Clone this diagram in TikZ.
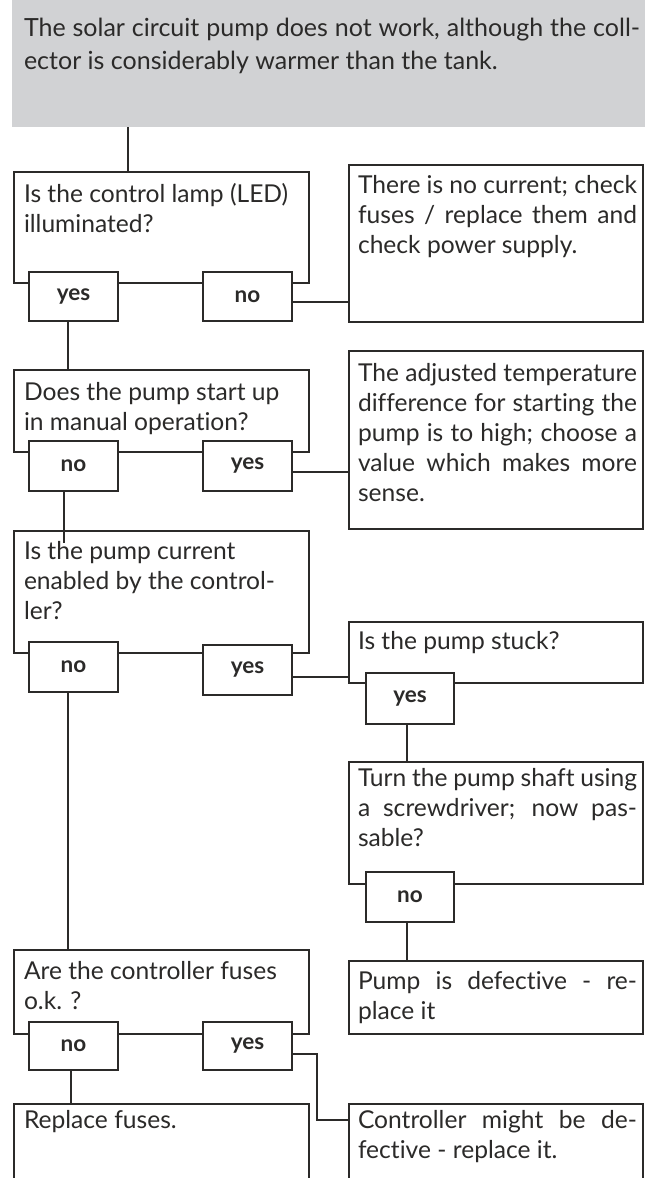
\documentclass[tikz,border=0pt]{standalone}
\usepackage{fontspec}
\setmainfont{Lato}[Ligatures={NoCommon,NoRare}]
\usetikzlibrary{calc}
\definecolor{ink}{HTML}{2B2A29}
\definecolor{panel}{HTML}{D1D2D4}
\newcommand\jline[1]{\makebox[279pt][s]{#1}}
\newcommand\btext[1]{\parbox[t]{290pt}{\fontsize{24.6}{30}\selectfont #1}}
\begin{document}
\begin{tikzpicture}[x=1pt,y=-1pt,
  frame/.style={draw=ink,line width=2pt,fill=white,inner sep=0pt,outer sep=0pt,anchor=north west},
  tag/.style={frame,minimum width=89pt,minimum height=49pt,text=ink,font=\fontsize{22.5}{22.5}\selectfont\bfseries},
  txt/.style={anchor=base west,inner sep=0pt,outer sep=0pt,text=ink},
  link/.style={draw=ink,line width=2pt}]
\useasboundingbox (0,0) rectangle (653,1178);
\clip (0,0) rectangle (653,1178);
% top panel
\node[anchor=north west,inner sep=0pt,fill=panel,minimum width=633pt,minimum height=127pt] (G) at (12,0) {};
\node[txt] (tG) at (24,36) {\parbox[t]{616pt}{\fontsize{25}{33}\selectfont\makebox[616pt][s]{The solar circuit pump does not work, although the coll-}\\ector is considerably warmer than the tank.}};
% big boxes
\node[frame,minimum width=295pt,minimum height=111pt] (q1) at (14,172) {};
\node[frame,minimum width=294pt,minimum height=157pt] (A) at (349,165) {};
\node[frame,minimum width=295pt,minimum height=82pt] (q2) at (14,370) {};
\node[frame,minimum width=294pt,minimum height=178pt] (B) at (349,351) {};
\node[frame,minimum width=295pt,minimum height=122pt] (q3) at (14,531) {};
\node[frame,minimum width=294pt,minimum height=61pt] (C) at (349,622) {};
\node[frame,minimum width=294pt,minimum height=122pt] (D) at (349,762) {};
\node[frame,minimum width=294pt,minimum height=73pt] (E) at (349,961) {};
\node[frame,minimum width=295pt,minimum height=84pt] (F) at (14,950) {};
\node[frame,minimum width=295pt,minimum height=110pt] (R) at (14,1104) {};
\node[frame,minimum width=294pt,minimum height=110pt] (K) at (349,1104) {};
% texts
\node[txt] at (24,202) {\btext{Is the control lamp (LED)\\illuminated?}};
\node[txt] at (358,193) {\btext{\jline{There is no current; check}\\\jline{fuses / replace them and}\\check power supply.}};
\node[txt] at (24,400) {\btext{Does the pump start up\\in manual operation?}};
\node[txt] at (358,381) {\btext{\jline{The adjusted temperature}\\\jline{difference for starting the}\\\jline{pump is to high; choose a}\\\jline{value which makes more}\\sense.}};
\node[txt] at (24,559) {\btext{Is the pump current\\enabled by the control-\\ler?}};
\node[txt] at (358,649) {\btext{Is the pump stuck?}};
\node[txt] at (358,786) {\btext{\jline{Turn the pump shaft using}\\\jline{a screwdriver; now pas-}\\sable?}};
\node[txt] at (358,989) {\btext{\jline{Pump is defective - re-}\\place it}};
\node[txt] at (24,979) {\btext{Are the controller fuses\\o.k. ?}};
\node[txt] at (24,1128) {\btext{Replace fuses.}};
\node[txt] at (358,1128) {\btext{\jline{Controller might be de-}\\fective - replace it.}};
% helper coordinates
\coordinate (c1) at (128,0);
\coordinate (c2) at (68,0);
\coordinate (e3) at (64,543);
\coordinate (c4) at (407,0);
\coordinate (c6) at (71,0);
\coordinate (b1) at (317,1120);
% connectors
\draw[link] (G.south -| c1) -- (q1.north -| c1);
\draw[link] (q1.south -| c2) -- (q2.north -| c2);
\draw[link] (q2.south -| e3) -- (e3);
\draw[link] (q3.south -| c2) -- (F.north -| c2);
\draw[link] (C.south -| c4) -- (D.north -| c4);
\draw[link] (D.south -| c4) -- (E.north -| c4);
\draw[link] (F.south -| c6) -- (R.north -| c6);
% small boxes
\node[tag] (yes1) at (29,272) {yes};
\node[tag] (no1) at (203,272) {no};
\node[tag,minimum height=50pt] (no2) at (29,441) {no};
\node[tag,minimum height=50pt] (yes2) at (203,441) {yes};
\node[tag,minimum height=50pt] (no3) at (29,642) {no};
\node[tag,minimum height=50pt] (yes3) at (203,645) {yes};
\node[tag,minimum width=88pt,minimum height=51pt] (yes4) at (366,673) {yes};
\node[tag,minimum width=88pt,minimum height=50pt] (no5) at (366,872) {no};
\node[tag,minimum height=48pt] (no6) at (29,1022) {no};
\node[tag,minimum height=48pt] (yes6) at (203,1022) {yes};
% side connectors
\draw[link] ([yshift=-5pt]no1.east) -- ([yshift=-5pt]no1.east -| A.west);
\draw[link] ([yshift=-6pt]yes2.east) -- ([yshift=-6pt]yes2.east -| B.west);
\draw[link] ([yshift=-7pt]yes3.east) -- ([yshift=-7pt]yes3.east -| C.west);
\draw[link] ([yshift=-8pt]yes6.east) -| (b1) -- (b1 -| K.west);
\end{tikzpicture}
\end{document}
